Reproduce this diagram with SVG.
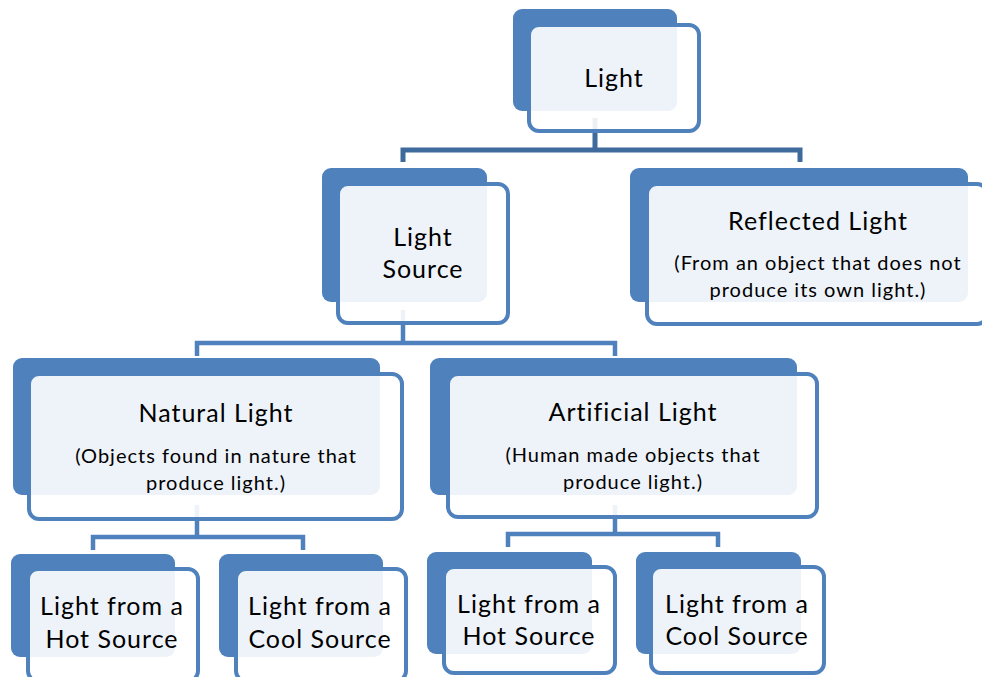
<svg xmlns="http://www.w3.org/2000/svg" width="982" height="677" viewBox="0 0 982 677">
<style>
.back{fill:#4f81bd}
.front{fill:#ffffff;fill-opacity:0.9;stroke:#4f81bd;stroke-width:4}
.conn{fill:none;stroke:#4f81bd;stroke-width:4.5}
.conn1{fill:none;stroke:#3f6a9c;stroke-width:5}
text{font-family:Lato,"Liberation Sans",sans-serif;fill:#000;text-anchor:middle;letter-spacing:1px}
.t{font-size:25px}
.s{font-size:20px}
</style>
<rect width="982" height="677" fill="#fff"/>
<g id="connectors">
<path class="conn1" d="M595 118V150M403 162V150H800V162"/>
<path class="conn" d="M403 310V343M197 356V343H615V356"/>
<path class="conn" d="M197 505V537M93 550V537H303V550"/>
<path class="conn" d="M615 505V534M508 547V534H718V547"/>
</g>
<g id="light">
<rect class="back" x="513" y="9" width="164" height="102" rx="9"/>
<rect class="front" x="529" y="25" width="170" height="106" rx="10"/>
<text class="t" x="614" y="87">Light</text>
</g>
<g id="light-source">
<rect class="back" x="322" y="168" width="165" height="134" rx="9"/>
<rect class="front" x="338" y="184" width="170" height="139" rx="10"/>
<text class="t" x="423" y="246">Light</text>
<text class="t" x="423" y="278">Source</text>
</g>
<g id="reflected-light">
<rect class="back" x="630" y="168" width="338" height="134" rx="9"/>
<rect class="front" x="647" y="184" width="340" height="140" rx="10"/>
<text class="t" x="818" y="230">Reflected Light</text>
<text class="s" x="818" y="270">(From an object that does not</text>
<text class="s" x="818" y="297">produce its own light.)</text>
</g>
<g id="natural-light">
<rect class="back" x="13" y="358" width="367" height="137" rx="9"/>
<rect class="front" x="29" y="374" width="373" height="145" rx="10"/>
<text class="t" x="216" y="422">Natural Light</text>
<text class="s" x="216" y="463">(Objects found in nature that</text>
<text class="s" x="216" y="490">produce light.)</text>
</g>
<g id="artificial-light">
<rect class="back" x="430" y="358" width="367" height="137" rx="9"/>
<rect class="front" x="448" y="374" width="369" height="143" rx="10"/>
<text class="t" x="633" y="421">Artificial Light</text>
<text class="s" x="633" y="462">(Human made objects that</text>
<text class="s" x="633" y="489">produce light.)</text>
</g>
<g id="natural-hot">
<rect class="back" x="11" y="554" width="164" height="103" rx="9"/>
<rect class="front" x="28" y="569" width="170" height="112" rx="10"/>
<text class="t" x="112" y="615">Light from a</text>
<text class="t" x="112" y="648">Hot Source</text>
</g>
<g id="natural-cool">
<rect class="back" x="219" y="554" width="164" height="103" rx="9"/>
<rect class="front" x="236" y="569" width="170" height="112" rx="10"/>
<text class="t" x="320" y="615">Light from a</text>
<text class="t" x="320" y="648">Cool Source</text>
</g>
<g id="artificial-hot">
<rect class="back" x="427" y="552" width="165" height="102" rx="9"/>
<rect class="front" x="444" y="567" width="171" height="106" rx="10"/>
<text class="t" x="529" y="613">Light from a</text>
<text class="t" x="529" y="645">Hot Source</text>
</g>
<g id="artificial-cool">
<rect class="back" x="636" y="552" width="165" height="102" rx="9"/>
<rect class="front" x="651" y="567" width="173" height="106" rx="10"/>
<text class="t" x="737" y="613">Light from a</text>
<text class="t" x="737" y="645">Cool Source</text>
</g>
</svg>
